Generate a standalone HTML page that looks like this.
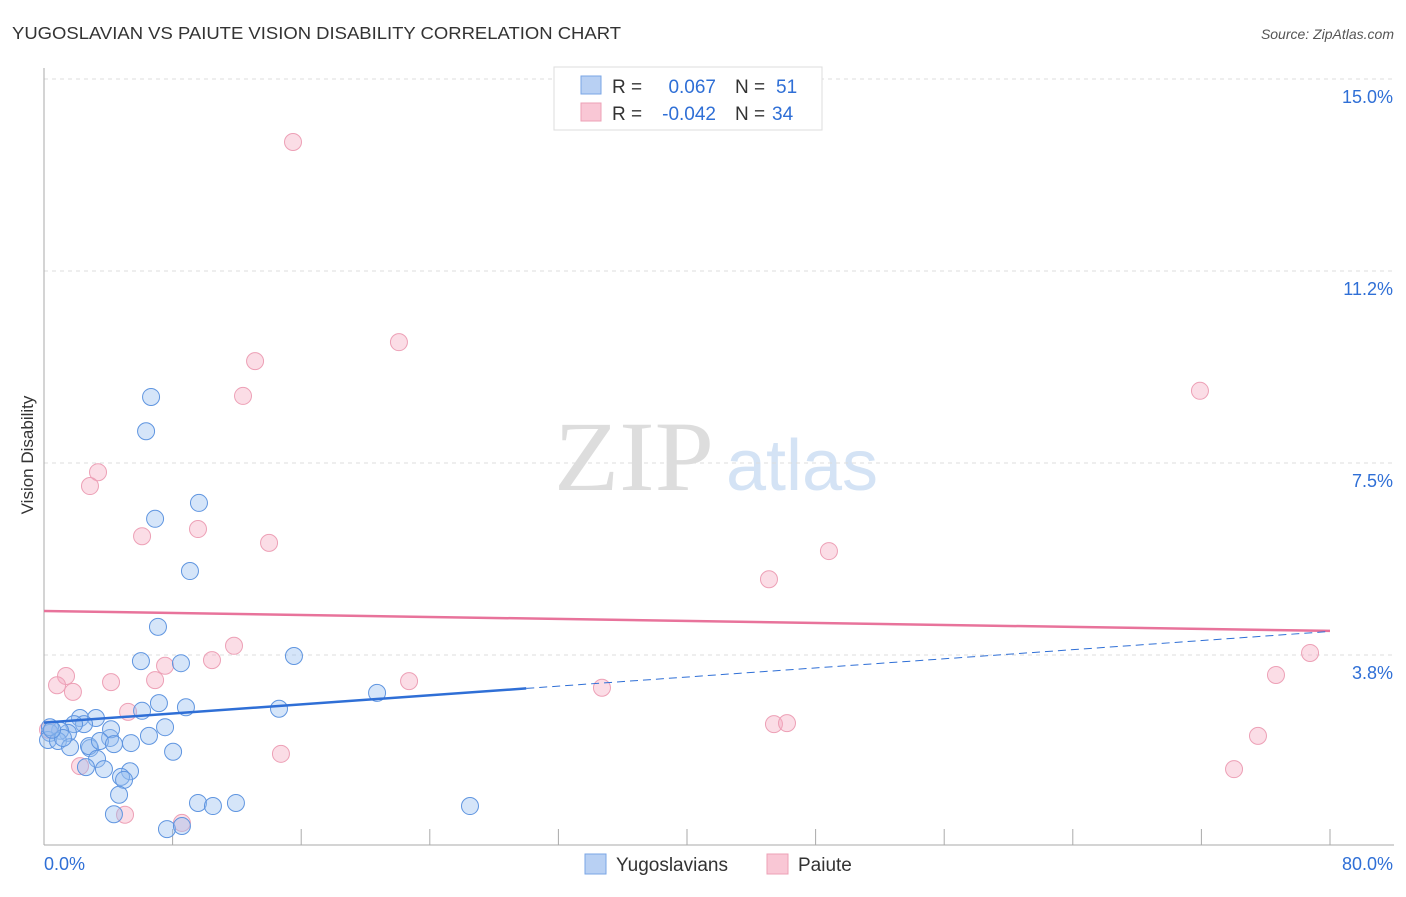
<!DOCTYPE html>
<html><head><meta charset="utf-8"><style>
body{margin:0;background:#fff;font-family:"Liberation Sans",sans-serif}
svg text{font-family:"Liberation Sans",sans-serif}
svg text.serif{font-family:"Liberation Serif",serif}
</style></head><body>
<svg id="chart" width="1406" height="892" xmlns="http://www.w3.org/2000/svg">
<text x="12" y="39" font-size="17.5" fill="#333" textLength="609" lengthAdjust="spacingAndGlyphs">YUGOSLAVIAN VS PAIUTE VISION DISABILITY CORRELATION CHART</text>
<text x="1394" y="39" font-size="14" fill="#555" font-style="italic" text-anchor="end">Source: ZipAtlas.com</text>
<text transform="translate(33,455) rotate(-90)" font-size="17" fill="#333" text-anchor="middle">Vision Disability</text>
<g>
<text class="serif" x="634" y="490" font-size="100" fill="#ddd" text-anchor="middle" textLength="160" lengthAdjust="spacingAndGlyphs">ZIP</text>
<text x="802" y="490" font-size="72" fill="#d4e3f5" text-anchor="middle">atlas</text>
</g>
<g id="grid"></g>
<g id="axes"></g>
<g id="points"></g>
<g id="lines"></g>
<g>
<rect x="554" y="67" width="268" height="63" fill="#fff" stroke="#ddd"/>
<rect x="581" y="76" width="20" height="18" fill="#b8d0f3" stroke="#7aa6e6"/>
<rect x="581" y="103" width="20" height="18" fill="#f9c7d5" stroke="#eda0b6"/>
<text x="612" y="93" font-size="19" fill="#333">R =</text>
<text x="716" y="93" font-size="19" fill="#2f6fd6" text-anchor="end">0.067</text>
<text x="735" y="93" font-size="19" fill="#333">N =</text>
<text x="776" y="93" font-size="19" fill="#2f6fd6">51</text>
<text x="612" y="120" font-size="19" fill="#333">R =</text>
<text x="716" y="120" font-size="19" fill="#2f6fd6" text-anchor="end">-0.042</text>
<text x="735" y="120" font-size="19" fill="#333">N =</text>
<text x="772" y="120" font-size="19" fill="#2f6fd6">34</text>
</g>
<g>
<rect x="585" y="854" width="21" height="20" fill="#b8d0f3" stroke="#7aa6e6"/>
<text x="616" y="871" font-size="19" fill="#333">Yugoslavians</text>
<rect x="767" y="854" width="21" height="20" fill="#f9c7d5" stroke="#eda0b6"/>
<text x="798" y="871" font-size="19" fill="#333">Paiute</text>
</g>
</svg>
<script>
const yTicks=[15.0,11.25,7.5,3.75];
const yTickLabels=["15.0%","11.2%","7.5%","3.8%"];
const xTickVals=[0,8,16,24,32,40,48,56,64,72,80];
const xLabels=["0.0%","80.0%"];
const blueX=[6.66,6.35,6.91,9.64,9.08,7.09,6.03,8.52,15.55,20.72,14.62,7.15,6.10,8.83,7.53,6.53,8.03,5.41,4.11,4.17,2.24,3.23,2.49,1.87,1.49,1.00,0.37,0.25,0.87,1.62,2.86,2.80,3.48,4.35,3.30,2.61,3.73,5.35,4.79,4.98,4.67,4.35,9.58,10.51,11.94,7.65,8.58,26.50,0.37,1.18,0.50];
const blueY=[8.79,8.12,6.41,6.72,5.39,4.30,3.63,3.59,3.73,3.01,2.70,2.81,2.66,2.73,2.34,2.17,1.86,2.03,2.13,2.30,2.52,2.52,2.40,2.40,2.23,2.27,2.23,2.09,2.07,1.95,1.93,1.97,2.07,2.01,1.72,1.56,1.52,1.48,1.37,1.31,1.02,0.64,0.86,0.80,0.86,0.35,0.41,0.80,2.34,2.13,2.29];
const pinkX=[15.49,22.08,13.13,12.38,3.36,2.86,6.10,9.58,14.00,45.10,48.83,71.91,11.82,10.45,7.53,1.37,0.81,1.80,4.17,6.91,22.71,34.71,78.76,76.64,5.23,45.41,46.22,75.52,74.03,14.74,2.24,5.04,8.58,0.25];
const pinkY=[13.77,9.86,9.49,8.81,7.32,7.05,6.07,6.21,5.94,5.23,5.78,8.91,3.93,3.65,3.54,3.34,3.16,3.03,3.22,3.26,3.24,3.11,3.79,3.36,2.64,2.40,2.42,2.17,1.52,1.82,1.58,0.63,0.47,2.29];
const blueTrend=[2.43,4.21]; const blueSolidEnd=30;
const pinkTrend=[4.61,4.22];
const X0=44,X1=1330,Y0=847,PPU=51.2;
const sx=v=>X0+v/80*(X1-X0), sy=v=>Y0-v*PPU;
const NS="http://www.w3.org/2000/svg";
function mk(tag,attrs,parent){const e=document.createElementNS(NS,tag);for(const k in attrs)e.setAttribute(k,attrs[k]);document.getElementById(parent).appendChild(e);return e;}
yTicks.forEach((t,i)=>{
 const l=mk('line',{x1:44,x2:1394,y1:sy(t),y2:sy(t),stroke:'#ddd','stroke-dasharray':'4,4'},'grid');
 
 
 const tx=mk('text',{x:1393,y:sy(t)+24,'font-size':18,fill:'#2f6fd6','text-anchor':'end'},'grid');
 tx.textContent=yTickLabels[i];
 
 
});
let a=mk('line',{x1:44,x2:44,y1:68,y2:845,stroke:'#aaa'},'axes');


a=mk('line',{x1:44,x2:1394,y1:845,y2:845,stroke:'#aaa'},'axes');


xTickVals.forEach(v=>{const t=mk('line',{x1:sx(v),x2:sx(v),y1:829,y2:845,stroke:'#aaa'},'axes');
 
 });
let xl=mk('text',{x:44,y:870,'font-size':18,fill:'#2f6fd6'},'axes');xl.textContent=xLabels[0];


xl=mk('text',{x:1393,y:870,'font-size':18,fill:'#2f6fd6','text-anchor':'end'},'axes');xl.textContent=xLabels[1];


pinkX.forEach((x,i)=>{const c=mk('circle',{cx:sx(x),cy:sy(pinkY[i]),r:8.5,fill:'rgba(246,170,192,0.4)',stroke:'#eda0b6','stroke-width':1},'points');
 
 });
blueX.forEach((x,i)=>{const c=mk('circle',{cx:sx(x),cy:sy(blueY[i]),r:8.5,fill:'rgba(150,190,240,0.4)',stroke:'#5f95e0','stroke-width':1},'points');
 
 });
const by=v=>blueTrend[0]+(blueTrend[1]-blueTrend[0])*v/80;
let ln=mk('line',{x1:sx(0),y1:sy(pinkTrend[0]),x2:sx(80),y2:sy(pinkTrend[1]),stroke:'#e8739b','stroke-width':2.5},'lines');


ln=mk('line',{x1:sx(0),y1:sy(by(0)),x2:sx(blueSolidEnd),y2:sy(by(blueSolidEnd)),stroke:'#2f6fd6','stroke-width':2.5},'lines');


ln=mk('line',{x1:sx(blueSolidEnd),y1:sy(by(blueSolidEnd)),x2:sx(80),y2:sy(by(80)),stroke:'#2f6fd6','stroke-width':1,'stroke-dasharray':'8,5'},'lines');


</script>
</body></html>
